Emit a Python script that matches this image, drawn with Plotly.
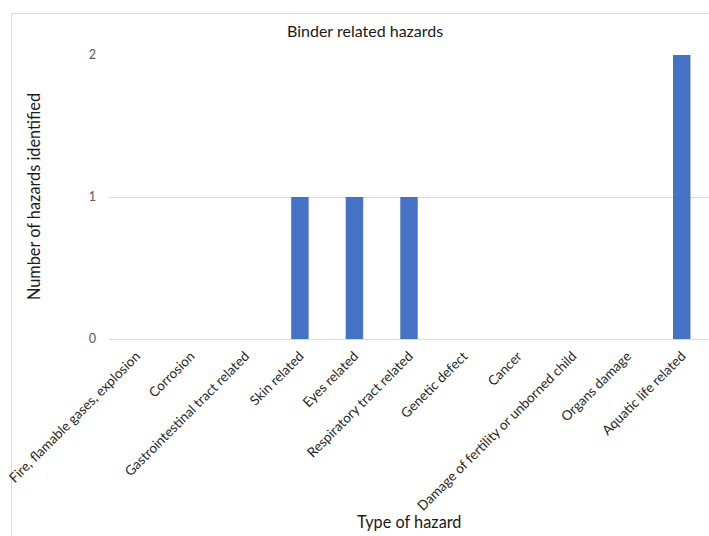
import plotly.graph_objects as go

# Hazard categories and the number identified for the binder
categories = [
    "Fire, flamable gases, explosion",
    "Corrosion",
    "Gastrointestinal tract related",
    "Skin related",
    "Eyes related",
    "Respiratory tract related",
    "Genetic defect",
    "Cancer",
    "Damage of fertility or unborned child",
    "Organs damage",
    "Aquatic life related",
]
counts = [0, 0, 0, 1, 1, 1, 0, 0, 0, 0, 2]
y_ticks = [0, 1, 2]

FONT = "Lato"
W, H = 709, 536
L, R, T, B = 109, 0, 55, 197
pw, ph = W - L - R, H - T - B

fig = go.Figure(
    go.Bar(
        x=categories,
        y=counts,
        marker=dict(color="#4472C4", line=dict(width=0)),
        width=0.32,
    )
)

fig.update_layout(
    width=W,
    height=H,
    margin=dict(l=L, r=R, t=T, b=B, autoexpand=False),
    plot_bgcolor="white",
    paper_bgcolor="white",
    showlegend=False,
    font=dict(family=FONT, color="#404040"),
)

fig.update_xaxes(
    type="category",
    tickangle=-45,
    tickfont=dict(family=FONT, size=13.5, color="#262626"),
    showgrid=False,
    showline=True,
    linecolor="#D9D9D9",
    linewidth=1,
    ticks="",
    ticklabelstandoff=3,
    automargin=False,
    range=[-0.5, len(categories) - 0.5],
)

fig.update_yaxes(
    range=[0, 2],
    tickvals=y_ticks,
    tickfont=dict(family=FONT, size=12.5, color="#595959"),
    showgrid=True,
    gridcolor="#D9D9D9",
    gridwidth=1,
    zeroline=False,
    showline=False,
    ticks="",
    ticklabelstandoff=12,
    automargin=False,
)

# Chart title and axis titles
fig.add_annotation(
    text="Binder related hazards", xref="paper", yref="paper",
    x=0.5 + (365 - (L + pw / 2)) / pw, y=1 + (T - 30) / ph,
    showarrow=False, font=dict(family=FONT, size=16, color="#1a1a1a"),
    xanchor="center", yanchor="middle",
)
fig.add_annotation(
    text="Number of hazards identified", xref="paper", yref="paper",
    x=(33 - L) / pw, y=1 - (197 - T) / ph,
    showarrow=False, textangle=-90,
    font=dict(family=FONT, size=16.3, color="#1a1a1a"),
    xanchor="center", yanchor="middle",
)
fig.add_annotation(
    text="Type of hazard", xref="paper", yref="paper",
    x=(409 - L) / pw, y=-(521 - T - ph) / ph,
    showarrow=False, font=dict(family=FONT, size=16.3, color="#1a1a1a"),
    xanchor="center", yanchor="middle",
)

# Outer chart frame
fig.add_shape(
    type="rect", xref="paper", yref="paper",
    x0=(11.5 - L) / pw, x1=1.2, y0=-2, y1=1 + (T - 13.5) / ph,
    line=dict(color="#D9D9D9", width=1), fillcolor="rgba(0,0,0,0)",
    layer="below",
)

fig.write_html("out.html")
